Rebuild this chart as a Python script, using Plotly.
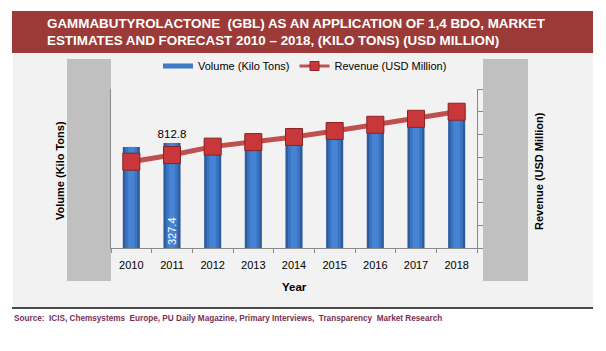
import plotly.graph_objects as go

years = ["2010", "2011", "2012", "2013", "2014", "2015", "2016", "2017", "2018"]
volume = [782, 812.8, 836, 867, 906, 952, 991, 1037, 1084]
revenue = [304, 327.4, 357, 373, 391, 412, 434, 455, 480]
volume_labels = ["", "812.8", "", "", "", "", "", "", ""]
revenue_labels = ["", "327.4", "", "", "", "", "", "", ""]

title = ("<b>GAMMABUTYROLACTONE  (GBL) AS AN APPLICATION OF 1,4 BDO, MARKET<br>"
         "ESTIMATES AND FORECAST 2010 \u2013 2018, (KILO TONS) (USD MILLION)</b>")
source = ("Source:  ICIS, Chemsystems  Europe, PU Daily Magazine, Primary Interviews,  "
          "Transparency  Market Research")

W, H = 606, 351
L, R, T, B = 111, 477, 89, 248
PW, PH = R - L, B - T


def px(x):
    return (x - L) / PW


def py(y):
    return (B - y) / PH


FONT = "Liberation Sans, Arial, sans-serif"

fig = go.Figure()

# base (dark) bars with value label above
fig.add_trace(go.Bar(
    x=years, y=volume, width=0.42, name="Volume (Kilo Tons)",
    marker=dict(color="#2c5c9e", line=dict(width=0)),
    showlegend=False, yaxis="y",
    text=volume_labels, textposition="outside", cliponaxis=False,
    constraintext="none",
    textfont=dict(color="black", size=11.5, family=FONT),
))
# highlight layers for cylinder look
fig.add_trace(go.Bar(
    x=years, y=volume, width=0.30, marker=dict(color="#3a74c0", line=dict(width=0)),
    showlegend=False, hoverinfo="skip", yaxis="y",
))
fig.add_trace(go.Bar(
    x=years, y=volume, width=0.16, marker=dict(color="#4683d2", line=dict(width=0)),
    showlegend=False, hoverinfo="skip", yaxis="y",
    text=revenue_labels, textposition="inside", insidetextanchor="start",
    constraintext="none", textangle=-90,
    textfont=dict(color="white", size=11, family=FONT),
))

# legend proxies (no marks drawn)
fig.add_trace(go.Scatter(
    x=[years[0]], y=[None], mode="lines", name="Volume (Kilo Tons)",
    line=dict(color="#3f7bc8", width=5), yaxis="y", hoverinfo="skip",
))
fig.add_trace(go.Scatter(
    x=[years[0]], y=[None], mode="lines+markers", name="Revenue (USD Million)",
    line=dict(color="#c0504d", width=3),
    marker=dict(symbol="square", size=9, color="#c8383a",
                line=dict(color="#8c2224", width=1)),
    yaxis="y2", hoverinfo="skip",
))

fig.add_trace(go.Scatter(
    x=years, y=revenue, mode="lines+markers", name="Revenue (USD Million)",
    line=dict(color="#c0504d", width=5), showlegend=False,
    marker=dict(symbol="square", size=17, color="#c8383a",
                line=dict(color="#8c2224", width=1)),
    yaxis="y2", cliponaxis=False,
))

shapes = [
    dict(type="rect", xref="paper", yref="paper", x0=px(12), x1=px(593),
         y0=py(53), y1=py(11), fillcolor="#9c3a37", line=dict(width=0), layer="below"),
    dict(type="rect", xref="paper", yref="paper", x0=px(13), x1=px(593),
         y0=py(308), y1=py(53), fillcolor="#f2f2f2", line=dict(width=0), layer="below"),
    dict(type="rect", xref="paper", yref="paper", x0=px(67), x1=px(111),
         y0=py(281), y1=py(59), fillcolor="#c0c0c0", line=dict(width=0), layer="below"),
    dict(type="rect", xref="paper", yref="paper", x0=px(483), x1=px(528),
         y0=py(281), y1=py(59), fillcolor="#c0c0c0", line=dict(width=0), layer="below"),
    dict(type="line", xref="paper", yref="paper", x0=px(12), x1=px(593),
         y0=py(308), y1=py(308), line=dict(color="#111111", width=1.5)),
]

annotations = [
    dict(text=title, xref="paper", yref="paper", x=px(45), y=py(32),
         xanchor="left", yanchor="middle", showarrow=False, align="left",
         font=dict(family=FONT, size=13.4, color="white")),
    dict(text="<b>Volume (Kilo Tons)</b>", xref="paper", yref="paper", x=px(60), y=py(171),
         textangle=-90, showarrow=False, xanchor="center", yanchor="middle",
         font=dict(family=FONT, size=11, color="black")),
    dict(text="<b>Revenue (USD Million)</b>", xref="paper", yref="paper", x=px(539), y=py(171),
         textangle=-90, showarrow=False, xanchor="center", yanchor="middle",
         font=dict(family=FONT, size=11, color="black")),
    dict(text="<b>Year</b>", xref="paper", yref="paper", x=px(294), y=py(287),
         showarrow=False, xanchor="center", yanchor="middle",
         font=dict(family=FONT, size=11.5, color="black")),
    dict(text=f"<b>{source}</b>", xref="paper", yref="paper", x=px(12), y=py(318),
         showarrow=False, xanchor="left", yanchor="middle",
         font=dict(family=FONT, size=8.2, color="#7a2f55")),
]

fig.update_layout(
    width=W, height=H,
    margin=dict(l=L, r=W - R, t=T, b=H - B, pad=0),
    paper_bgcolor="white", plot_bgcolor="rgba(0,0,0,0)",
    barmode="overlay",
    font=dict(family=FONT, size=11, color="black"),
    showlegend=True,
    legend=dict(orientation="h", x=px(158), y=py(66), xanchor="left", yanchor="middle",
                bgcolor="rgba(0,0,0,0)", font=dict(size=11, family=FONT),
                itemwidth=30, tracegroupgap=0),
    xaxis=dict(type="category", categoryorder="array", categoryarray=years,
               range=[-0.5, len(years) - 0.5], tickson="boundaries", ticks="outside",
               ticklen=4, tickangle=0, ticklabelstandoff=7,
               tickcolor="#898989", showline=True, linecolor="#898989", linewidth=1,
               showgrid=False, tickfont=dict(size=11, family=FONT, color="black")),
    yaxis=dict(range=[0, 1230], showline=True, linecolor="#898989", linewidth=1,
               showgrid=False, showticklabels=False, ticks="", zeroline=False),
    yaxis2=dict(range=[0, 560], dtick=80, overlaying="y", side="right", showline=True,
                linecolor="#898989", linewidth=1, ticks="outside", ticklen=5,
                tickcolor="#898989", showgrid=False, showticklabels=False, zeroline=False),
    shapes=shapes, annotations=annotations,
)

fig.write_html("out.html")
